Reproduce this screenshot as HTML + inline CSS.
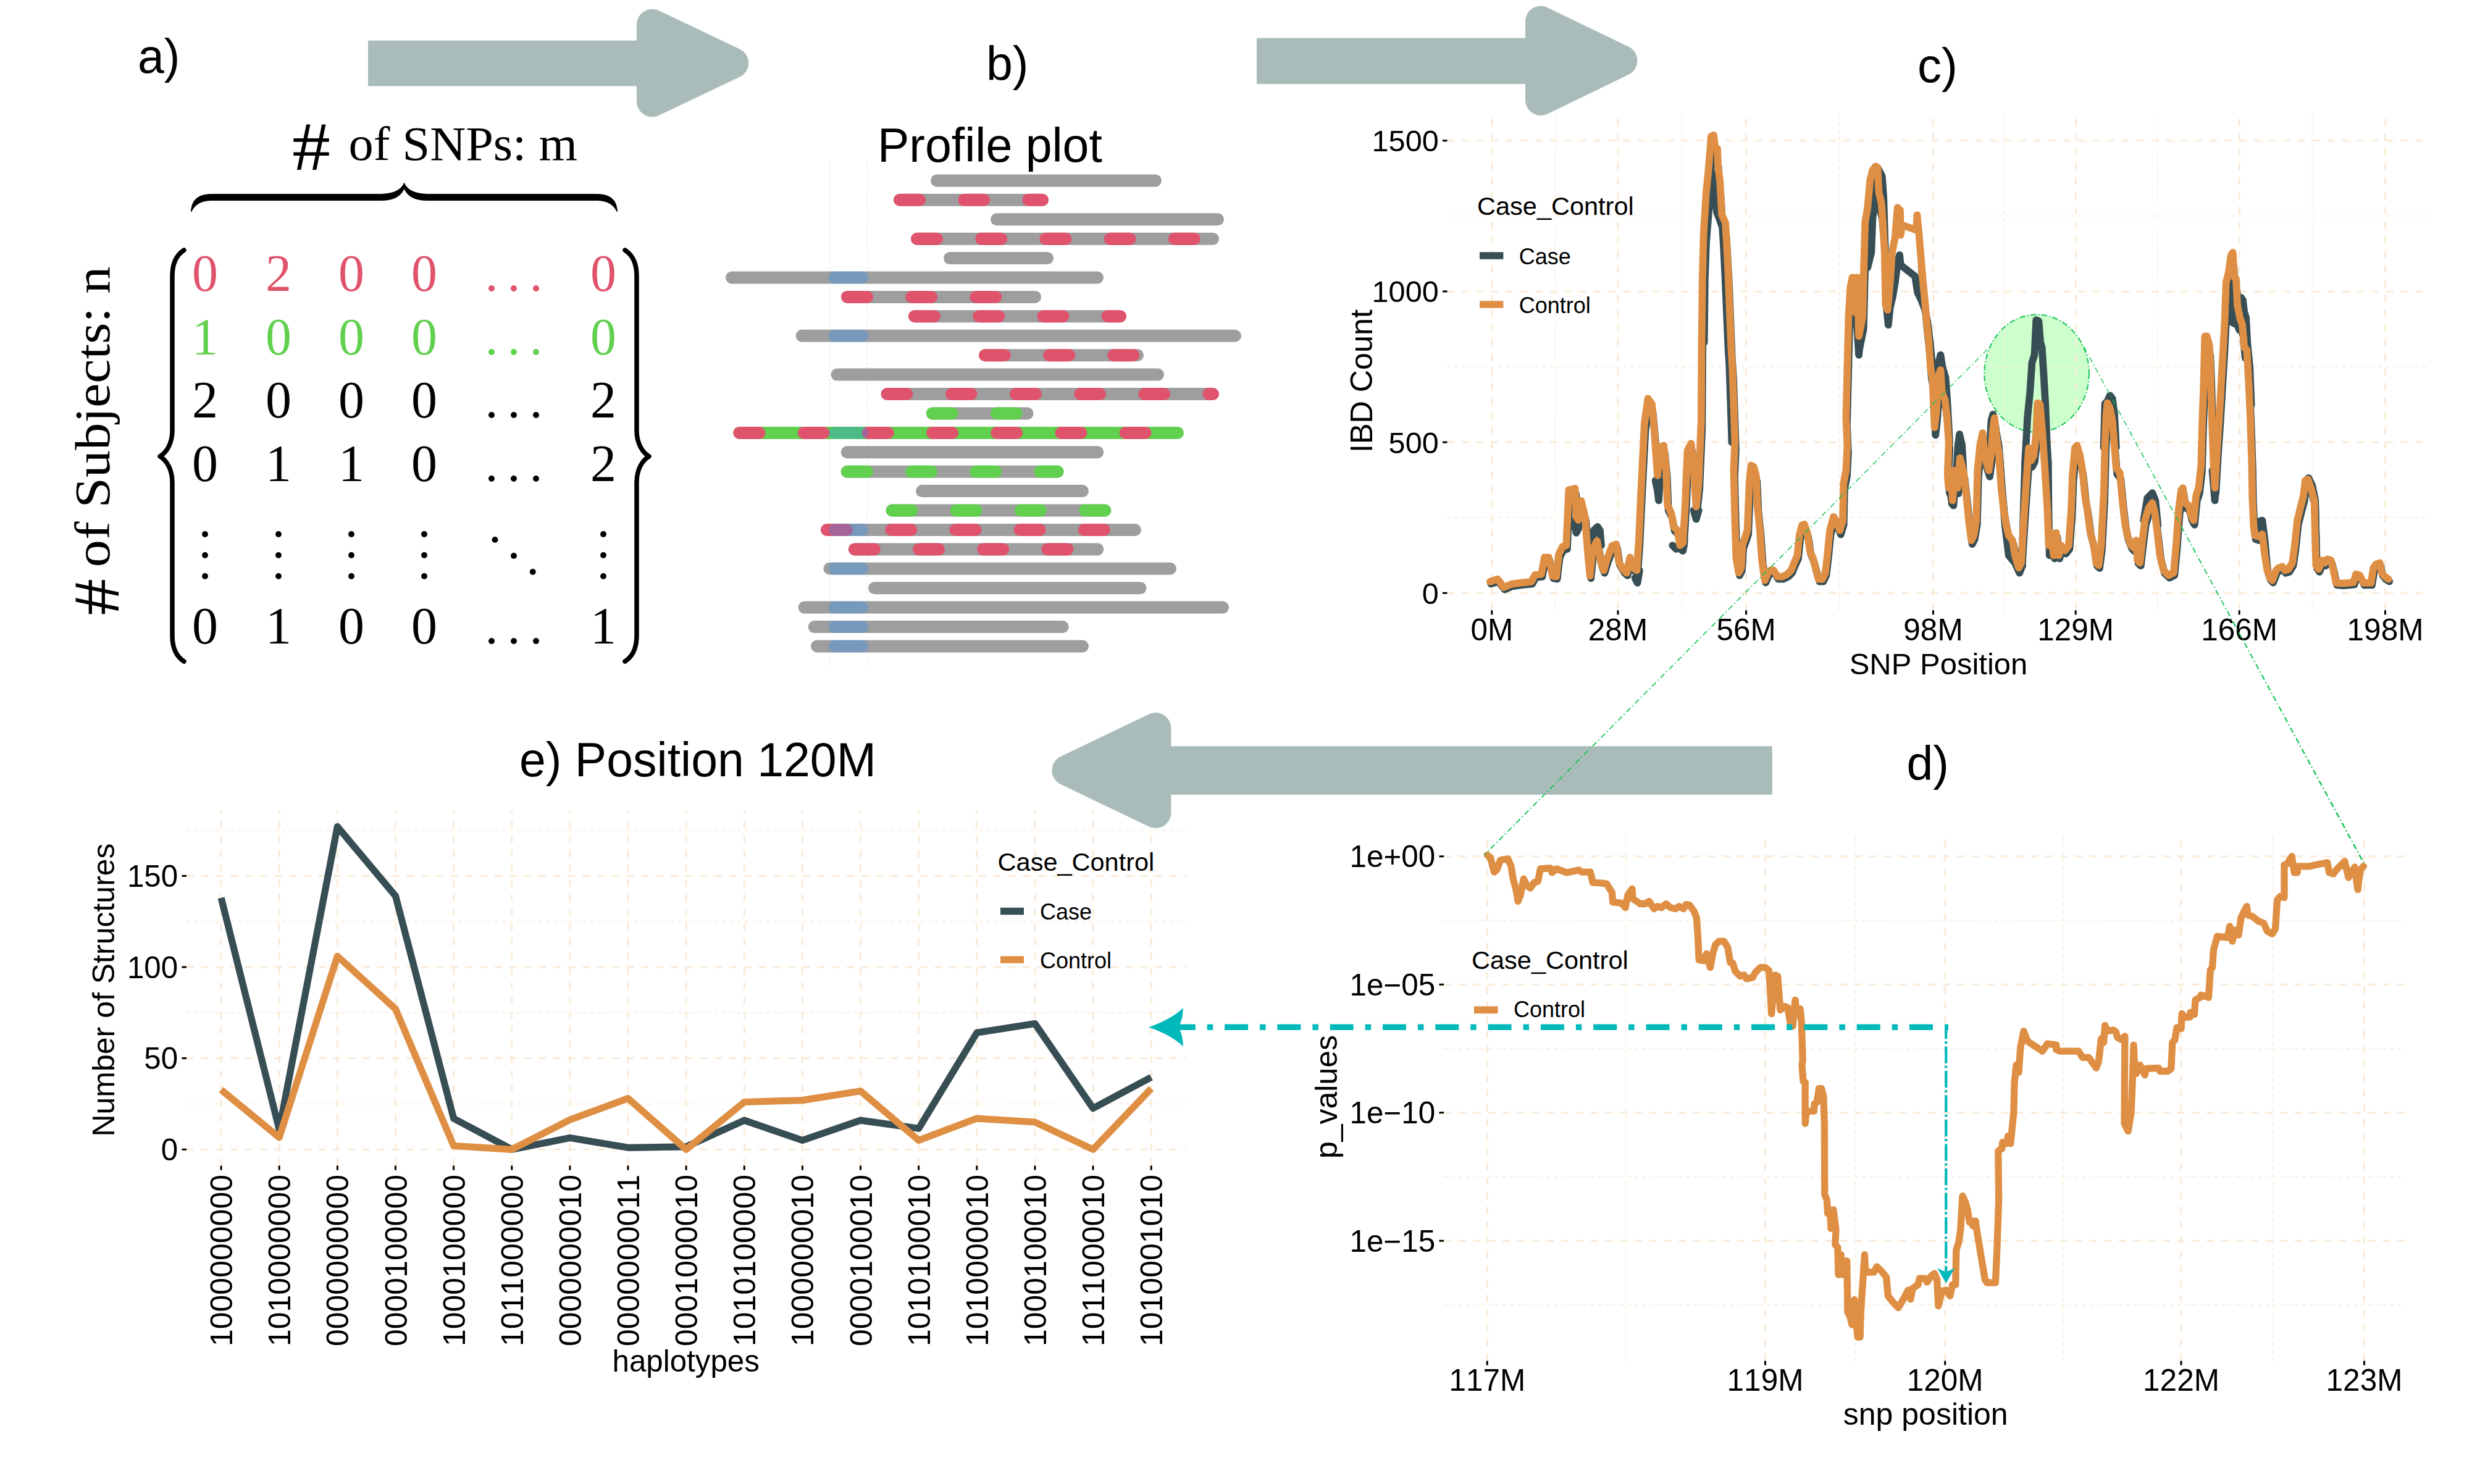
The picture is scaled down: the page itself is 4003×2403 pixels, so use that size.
<!DOCTYPE html>
<html><head><meta charset="utf-8"><title>figure</title>
<style>html,body{margin:0;padding:0;background:#fff;}svg{display:block;}text{font-kerning:none;}</style></head><body>
<svg width="4003" height="2403" viewBox="0 0 4003 2403">
<rect width="4003" height="2403" fill="#fff"/>
<g stroke="#FAEBD7" fill="none">
<line x1="302.0" y1="1787.5" x2="1920.7" y2="1787.5" stroke-width="1.5" stroke-dasharray="5.94 5.94"/>
<line x1="302.0" y1="1639.8" x2="1920.7" y2="1639.8" stroke-width="1.5" stroke-dasharray="5.94 5.94"/>
<line x1="302.0" y1="1492.2" x2="1920.7" y2="1492.2" stroke-width="1.5" stroke-dasharray="5.94 5.94"/>
<line x1="302.0" y1="1344.5" x2="1920.7" y2="1344.5" stroke-width="1.5" stroke-dasharray="5.94 5.94"/>
<line x1="302.0" y1="1861.3" x2="1920.7" y2="1861.3" stroke-width="3" stroke-dasharray="11.88 11.88"/>
<line x1="302.0" y1="1713.6" x2="1920.7" y2="1713.6" stroke-width="3" stroke-dasharray="11.88 11.88"/>
<line x1="302.0" y1="1566.0" x2="1920.7" y2="1566.0" stroke-width="3" stroke-dasharray="11.88 11.88"/>
<line x1="302.0" y1="1418.3" x2="1920.7" y2="1418.3" stroke-width="3" stroke-dasharray="11.88 11.88"/>
<line x1="358.1" y1="1887.4" x2="358.1" y2="1311.8" stroke-width="3" stroke-dasharray="11.88 11.88"/>
<line x1="452.2" y1="1887.4" x2="452.2" y2="1311.8" stroke-width="3" stroke-dasharray="11.88 11.88"/>
<line x1="546.4" y1="1887.4" x2="546.4" y2="1311.8" stroke-width="3" stroke-dasharray="11.88 11.88"/>
<line x1="640.5" y1="1887.4" x2="640.5" y2="1311.8" stroke-width="3" stroke-dasharray="11.88 11.88"/>
<line x1="734.6" y1="1887.4" x2="734.6" y2="1311.8" stroke-width="3" stroke-dasharray="11.88 11.88"/>
<line x1="828.8" y1="1887.4" x2="828.8" y2="1311.8" stroke-width="3" stroke-dasharray="11.88 11.88"/>
<line x1="922.9" y1="1887.4" x2="922.9" y2="1311.8" stroke-width="3" stroke-dasharray="11.88 11.88"/>
<line x1="1017.0" y1="1887.4" x2="1017.0" y2="1311.8" stroke-width="3" stroke-dasharray="11.88 11.88"/>
<line x1="1111.1" y1="1887.4" x2="1111.1" y2="1311.8" stroke-width="3" stroke-dasharray="11.88 11.88"/>
<line x1="1205.3" y1="1887.4" x2="1205.3" y2="1311.8" stroke-width="3" stroke-dasharray="11.88 11.88"/>
<line x1="1299.4" y1="1887.4" x2="1299.4" y2="1311.8" stroke-width="3" stroke-dasharray="11.88 11.88"/>
<line x1="1393.5" y1="1887.4" x2="1393.5" y2="1311.8" stroke-width="3" stroke-dasharray="11.88 11.88"/>
<line x1="1487.7" y1="1887.4" x2="1487.7" y2="1311.8" stroke-width="3" stroke-dasharray="11.88 11.88"/>
<line x1="1581.8" y1="1887.4" x2="1581.8" y2="1311.8" stroke-width="3" stroke-dasharray="11.88 11.88"/>
<line x1="1675.9" y1="1887.4" x2="1675.9" y2="1311.8" stroke-width="3" stroke-dasharray="11.88 11.88"/>
<line x1="1770.0" y1="1887.4" x2="1770.0" y2="1311.8" stroke-width="3" stroke-dasharray="11.88 11.88"/>
<line x1="1864.2" y1="1887.4" x2="1864.2" y2="1311.8" stroke-width="3" stroke-dasharray="11.88 11.88"/>
</g>
<rect x="596.0" y="65.7" width="436.0" height="73.7" fill="#a9bcba"/>
<polygon points="1056.0,39.7 1056.0,164.3 1187.2,102.0" fill="#a9bcba" stroke="#a9bcba" stroke-width="50" stroke-linejoin="round"/>
<rect x="2035.0" y="61.7" width="436.0" height="74.3" fill="#a9bcba"/>
<polygon points="2495.0,34.7 2495.0,161.9 2626.5,98.3" fill="#a9bcba" stroke="#a9bcba" stroke-width="50" stroke-linejoin="round"/>
<rect x="1895.0" y="1208.3" width="974.8" height="78.5" fill="#a9bcba"/>
<polygon points="1871.4,1179.0 1871.4,1316.0 1728.4,1247.5" fill="#a9bcba" stroke="#a9bcba" stroke-width="50" stroke-linejoin="round"/>
<text x="223.0" y="118.0" font-family='"Liberation Sans", sans-serif' font-size="77" text-anchor="start" fill="#000" >a)</text>
<text x="1597.0" y="130.0" font-family='"Liberation Sans", sans-serif' font-size="77" text-anchor="start" fill="#000" >b)</text>
<text x="3105.0" y="132.5" font-family='"Liberation Sans", sans-serif' font-size="78" text-anchor="start" fill="#000" >c)</text>
<text x="3087.5" y="1262.5" font-family='"Liberation Sans", sans-serif' font-size="77" text-anchor="start" fill="#000" >d)</text>
<text x="841.0" y="1256.7" font-family='"Liberation Sans", sans-serif' font-size="77" text-anchor="start" fill="#000" >e) Position 120M</text>
<text x="1421.0" y="262.0" font-family='"Liberation Sans", sans-serif' font-size="77" text-anchor="start" fill="#000" >Profile plot</text>
<text x="473.0" y="275.3" font-family='"Liberation Serif", serif' font-size="112" text-anchor="start" fill="#000" textLength="62" lengthAdjust="spacingAndGlyphs">#</text>
<text x="564.5" y="259.0" font-family='"Liberation Serif", serif' font-size="79" text-anchor="start" fill="#000" textLength="370.5" lengthAdjust="spacingAndGlyphs">of SNPs: m</text>
<text x="192.0" y="996.5" font-family='"Liberation Serif", serif' font-size="106" text-anchor="start" fill="#000" transform="rotate(-90 192.0 996.5)" textLength="59.5" lengthAdjust="spacingAndGlyphs">#</text>
<text x="177.0" y="918.4" font-family='"Liberation Serif", serif' font-size="80" text-anchor="start" fill="#000" transform="rotate(-90 177.0 918.4)" textLength="487" lengthAdjust="spacingAndGlyphs">of Subjects: n</text>
<path d="M309.5,343.0 C310.5,322.4 321.5,314.4 344.5,314.4 L614.5,314.4 C639.5,314.4 650.0,306.4 654.5,296.3 C659.0,306.4 669.5,314.4 694.5,314.4 L964.5,314.4 C987.5,314.4 998.5,322.4 999.5,343.0 C991.5,327.9 979.5,324.4 964.5,324.4 L691.5,324.4 C668.5,324.4 658.5,315.4 654.5,304.8 C650.5,315.4 640.5,324.4 617.5,324.4 L344.5,324.4 C329.5,324.4 317.5,327.9 309.5,343.0 Z" fill="#000" stroke="#000" stroke-width="1" stroke-linejoin="round"/>
<path d="M298.0,405.0 C288.5,411.0 279.0,423.0 279.0,447.0 L279.0,697.0 C279.0,719.0 269.0,733.0 259.0,739.0 C269.0,745.0 279.0,759.0 279.0,781.0 L279.0,1029.0 C279.0,1053.0 288.5,1065.0 298.0,1071.0" fill="none" stroke="#000" stroke-width="7.5" stroke-linecap="round" stroke-linejoin="round"/>
<path d="M1012.0,405.0 C1021.5,411.0 1031.0,423.0 1031.0,447.0 L1031.0,697.0 C1031.0,719.0 1041.0,733.0 1051.0,739.0 C1041.0,745.0 1031.0,759.0 1031.0,781.0 L1031.0,1029.0 C1031.0,1053.0 1021.5,1065.0 1012.0,1071.0" fill="none" stroke="#000" stroke-width="7.5" stroke-linecap="round" stroke-linejoin="round"/>
<text x="332.0" y="471.0" font-family='"Liberation Serif", serif' font-size="84" text-anchor="middle" fill="#e0536c" >0</text>
<text x="451.0" y="471.0" font-family='"Liberation Serif", serif' font-size="84" text-anchor="middle" fill="#e0536c" >2</text>
<text x="569.0" y="471.0" font-family='"Liberation Serif", serif' font-size="84" text-anchor="middle" fill="#e0536c" >0</text>
<text x="687.0" y="471.0" font-family='"Liberation Serif", serif' font-size="84" text-anchor="middle" fill="#e0536c" >0</text>
<text x="796.0" y="470.7" font-family='"Liberation Serif", serif' font-size="84" text-anchor="middle" fill="#e0536c" >.</text>
<text x="832.0" y="470.7" font-family='"Liberation Serif", serif' font-size="84" text-anchor="middle" fill="#e0536c" >.</text>
<text x="868.0" y="470.7" font-family='"Liberation Serif", serif' font-size="84" text-anchor="middle" fill="#e0536c" >.</text>
<text x="977.0" y="471.0" font-family='"Liberation Serif", serif' font-size="84" text-anchor="middle" fill="#e0536c" >0</text>
<text x="332.0" y="574.0" font-family='"Liberation Serif", serif' font-size="84" text-anchor="middle" fill="#61d04f" >1</text>
<text x="451.0" y="574.0" font-family='"Liberation Serif", serif' font-size="84" text-anchor="middle" fill="#61d04f" >0</text>
<text x="569.0" y="574.0" font-family='"Liberation Serif", serif' font-size="84" text-anchor="middle" fill="#61d04f" >0</text>
<text x="687.0" y="574.0" font-family='"Liberation Serif", serif' font-size="84" text-anchor="middle" fill="#61d04f" >0</text>
<text x="796.0" y="573.7" font-family='"Liberation Serif", serif' font-size="84" text-anchor="middle" fill="#61d04f" >.</text>
<text x="832.0" y="573.7" font-family='"Liberation Serif", serif' font-size="84" text-anchor="middle" fill="#61d04f" >.</text>
<text x="868.0" y="573.7" font-family='"Liberation Serif", serif' font-size="84" text-anchor="middle" fill="#61d04f" >.</text>
<text x="977.0" y="574.0" font-family='"Liberation Serif", serif' font-size="84" text-anchor="middle" fill="#61d04f" >0</text>
<text x="332.0" y="676.0" font-family='"Liberation Serif", serif' font-size="84" text-anchor="middle" fill="#000" >2</text>
<text x="451.0" y="676.0" font-family='"Liberation Serif", serif' font-size="84" text-anchor="middle" fill="#000" >0</text>
<text x="569.0" y="676.0" font-family='"Liberation Serif", serif' font-size="84" text-anchor="middle" fill="#000" >0</text>
<text x="687.0" y="676.0" font-family='"Liberation Serif", serif' font-size="84" text-anchor="middle" fill="#000" >0</text>
<text x="796.0" y="675.7" font-family='"Liberation Serif", serif' font-size="84" text-anchor="middle" fill="#000" >.</text>
<text x="832.0" y="675.7" font-family='"Liberation Serif", serif' font-size="84" text-anchor="middle" fill="#000" >.</text>
<text x="868.0" y="675.7" font-family='"Liberation Serif", serif' font-size="84" text-anchor="middle" fill="#000" >.</text>
<text x="977.0" y="676.0" font-family='"Liberation Serif", serif' font-size="84" text-anchor="middle" fill="#000" >2</text>
<text x="332.0" y="779.0" font-family='"Liberation Serif", serif' font-size="84" text-anchor="middle" fill="#000" >0</text>
<text x="451.0" y="779.0" font-family='"Liberation Serif", serif' font-size="84" text-anchor="middle" fill="#000" >1</text>
<text x="569.0" y="779.0" font-family='"Liberation Serif", serif' font-size="84" text-anchor="middle" fill="#000" >1</text>
<text x="687.0" y="779.0" font-family='"Liberation Serif", serif' font-size="84" text-anchor="middle" fill="#000" >0</text>
<text x="796.0" y="778.7" font-family='"Liberation Serif", serif' font-size="84" text-anchor="middle" fill="#000" >.</text>
<text x="832.0" y="778.7" font-family='"Liberation Serif", serif' font-size="84" text-anchor="middle" fill="#000" >.</text>
<text x="868.0" y="778.7" font-family='"Liberation Serif", serif' font-size="84" text-anchor="middle" fill="#000" >.</text>
<text x="977.0" y="779.0" font-family='"Liberation Serif", serif' font-size="84" text-anchor="middle" fill="#000" >2</text>
<text x="332.0" y="1042.0" font-family='"Liberation Serif", serif' font-size="84" text-anchor="middle" fill="#000" >0</text>
<text x="451.0" y="1042.0" font-family='"Liberation Serif", serif' font-size="84" text-anchor="middle" fill="#000" >1</text>
<text x="569.0" y="1042.0" font-family='"Liberation Serif", serif' font-size="84" text-anchor="middle" fill="#000" >0</text>
<text x="687.0" y="1042.0" font-family='"Liberation Serif", serif' font-size="84" text-anchor="middle" fill="#000" >0</text>
<text x="796.0" y="1041.7" font-family='"Liberation Serif", serif' font-size="84" text-anchor="middle" fill="#000" >.</text>
<text x="832.0" y="1041.7" font-family='"Liberation Serif", serif' font-size="84" text-anchor="middle" fill="#000" >.</text>
<text x="868.0" y="1041.7" font-family='"Liberation Serif", serif' font-size="84" text-anchor="middle" fill="#000" >.</text>
<text x="977.0" y="1042.0" font-family='"Liberation Serif", serif' font-size="84" text-anchor="middle" fill="#000" >1</text>
<text x="332.0" y="869.2" font-family='"Liberation Serif", serif' font-size="84" text-anchor="middle" fill="#000" >.</text>
<text x="332.0" y="903.2" font-family='"Liberation Serif", serif' font-size="84" text-anchor="middle" fill="#000" >.</text>
<text x="332.0" y="937.2" font-family='"Liberation Serif", serif' font-size="84" text-anchor="middle" fill="#000" >.</text>
<text x="451.0" y="869.2" font-family='"Liberation Serif", serif' font-size="84" text-anchor="middle" fill="#000" >.</text>
<text x="451.0" y="903.2" font-family='"Liberation Serif", serif' font-size="84" text-anchor="middle" fill="#000" >.</text>
<text x="451.0" y="937.2" font-family='"Liberation Serif", serif' font-size="84" text-anchor="middle" fill="#000" >.</text>
<text x="569.0" y="869.2" font-family='"Liberation Serif", serif' font-size="84" text-anchor="middle" fill="#000" >.</text>
<text x="569.0" y="903.2" font-family='"Liberation Serif", serif' font-size="84" text-anchor="middle" fill="#000" >.</text>
<text x="569.0" y="937.2" font-family='"Liberation Serif", serif' font-size="84" text-anchor="middle" fill="#000" >.</text>
<text x="687.0" y="869.2" font-family='"Liberation Serif", serif' font-size="84" text-anchor="middle" fill="#000" >.</text>
<text x="687.0" y="903.2" font-family='"Liberation Serif", serif' font-size="84" text-anchor="middle" fill="#000" >.</text>
<text x="687.0" y="937.2" font-family='"Liberation Serif", serif' font-size="84" text-anchor="middle" fill="#000" >.</text>
<text x="977.0" y="869.2" font-family='"Liberation Serif", serif' font-size="84" text-anchor="middle" fill="#000" >.</text>
<text x="977.0" y="903.2" font-family='"Liberation Serif", serif' font-size="84" text-anchor="middle" fill="#000" >.</text>
<text x="977.0" y="937.2" font-family='"Liberation Serif", serif' font-size="84" text-anchor="middle" fill="#000" >.</text>
<text x="801.6" y="878.2" font-family='"Liberation Serif", serif' font-size="84" text-anchor="middle" fill="#000" >.</text>
<text x="832.0" y="903.7" font-family='"Liberation Serif", serif' font-size="84" text-anchor="middle" fill="#000" >.</text>
<text x="862.7" y="930.2" font-family='"Liberation Serif", serif' font-size="84" text-anchor="middle" fill="#000" >.</text>
<g stroke="#a6dcee" stroke-width="1.3" stroke-dasharray="1.5 5" fill="none">
<line x1="1343.5" y1="263" x2="1343.5" y2="1077"/><line x1="1404.3" y1="263" x2="1404.3" y2="1077"/></g>
<line x1="1517.0" y1="292.4" x2="1871.0" y2="292.4" stroke="#9e9e9e" stroke-width="20" stroke-linecap="round"/>
<line x1="1457.0" y1="323.8" x2="1688.0" y2="323.8" stroke="#9e9e9e" stroke-width="20" stroke-linecap="round"/>
<line x1="1457.0" y1="323.8" x2="1489.0" y2="323.8" stroke="#e0536c" stroke-width="20" stroke-linecap="round"/>
<line x1="1561.2" y1="323.8" x2="1593.2" y2="323.8" stroke="#e0536c" stroke-width="20" stroke-linecap="round"/>
<line x1="1665.4" y1="323.8" x2="1688.0" y2="323.8" stroke="#e0536c" stroke-width="20" stroke-linecap="round"/>
<line x1="1614.0" y1="355.2" x2="1972.0" y2="355.2" stroke="#9e9e9e" stroke-width="20" stroke-linecap="round"/>
<line x1="1485.0" y1="386.7" x2="1964.0" y2="386.7" stroke="#9e9e9e" stroke-width="20" stroke-linecap="round"/>
<line x1="1485.0" y1="386.7" x2="1517.0" y2="386.7" stroke="#e0536c" stroke-width="20" stroke-linecap="round"/>
<line x1="1589.2" y1="386.7" x2="1621.2" y2="386.7" stroke="#e0536c" stroke-width="20" stroke-linecap="round"/>
<line x1="1693.4" y1="386.7" x2="1725.4" y2="386.7" stroke="#e0536c" stroke-width="20" stroke-linecap="round"/>
<line x1="1797.6" y1="386.7" x2="1829.6" y2="386.7" stroke="#e0536c" stroke-width="20" stroke-linecap="round"/>
<line x1="1901.8" y1="386.7" x2="1933.8" y2="386.7" stroke="#e0536c" stroke-width="20" stroke-linecap="round"/>
<line x1="1538.0" y1="418.1" x2="1696.0" y2="418.1" stroke="#9e9e9e" stroke-width="20" stroke-linecap="round"/>
<line x1="1185.0" y1="449.5" x2="1777.0" y2="449.5" stroke="#9e9e9e" stroke-width="20" stroke-linecap="round"/>
<line x1="1351.5" y1="449.5" x2="1396.2" y2="449.5" stroke="#1E90FF" stroke-opacity="0.3" stroke-width="20" stroke-linecap="round"/>
<line x1="1372.0" y1="480.9" x2="1676.0" y2="480.9" stroke="#9e9e9e" stroke-width="20" stroke-linecap="round"/>
<line x1="1372.0" y1="480.9" x2="1404.0" y2="480.9" stroke="#e0536c" stroke-width="20" stroke-linecap="round"/>
<line x1="1476.2" y1="480.9" x2="1508.2" y2="480.9" stroke="#e0536c" stroke-width="20" stroke-linecap="round"/>
<line x1="1580.4" y1="480.9" x2="1612.4" y2="480.9" stroke="#e0536c" stroke-width="20" stroke-linecap="round"/>
<line x1="1481.0" y1="512.3" x2="1814.0" y2="512.3" stroke="#9e9e9e" stroke-width="20" stroke-linecap="round"/>
<line x1="1481.0" y1="512.3" x2="1513.0" y2="512.3" stroke="#e0536c" stroke-width="20" stroke-linecap="round"/>
<line x1="1585.2" y1="512.3" x2="1617.2" y2="512.3" stroke="#e0536c" stroke-width="20" stroke-linecap="round"/>
<line x1="1689.4" y1="512.3" x2="1721.4" y2="512.3" stroke="#e0536c" stroke-width="20" stroke-linecap="round"/>
<line x1="1793.6" y1="512.3" x2="1814.0" y2="512.3" stroke="#e0536c" stroke-width="20" stroke-linecap="round"/>
<line x1="1298.5" y1="543.8" x2="2000.0" y2="543.8" stroke="#9e9e9e" stroke-width="20" stroke-linecap="round"/>
<line x1="1351.5" y1="543.8" x2="1396.2" y2="543.8" stroke="#1E90FF" stroke-opacity="0.3" stroke-width="20" stroke-linecap="round"/>
<line x1="1595.0" y1="575.2" x2="1842.0" y2="575.2" stroke="#9e9e9e" stroke-width="20" stroke-linecap="round"/>
<line x1="1595.0" y1="575.2" x2="1627.0" y2="575.2" stroke="#e0536c" stroke-width="20" stroke-linecap="round"/>
<line x1="1699.2" y1="575.2" x2="1731.2" y2="575.2" stroke="#e0536c" stroke-width="20" stroke-linecap="round"/>
<line x1="1803.4" y1="575.2" x2="1835.4" y2="575.2" stroke="#e0536c" stroke-width="20" stroke-linecap="round"/>
<line x1="1355.5" y1="606.6" x2="1875.0" y2="606.6" stroke="#9e9e9e" stroke-width="20" stroke-linecap="round"/>
<line x1="1436.5" y1="638.0" x2="1964.0" y2="638.0" stroke="#9e9e9e" stroke-width="20" stroke-linecap="round"/>
<line x1="1436.5" y1="638.0" x2="1468.5" y2="638.0" stroke="#e0536c" stroke-width="20" stroke-linecap="round"/>
<line x1="1540.7" y1="638.0" x2="1572.7" y2="638.0" stroke="#e0536c" stroke-width="20" stroke-linecap="round"/>
<line x1="1644.9" y1="638.0" x2="1676.9" y2="638.0" stroke="#e0536c" stroke-width="20" stroke-linecap="round"/>
<line x1="1749.1" y1="638.0" x2="1781.1" y2="638.0" stroke="#e0536c" stroke-width="20" stroke-linecap="round"/>
<line x1="1853.3" y1="638.0" x2="1885.3" y2="638.0" stroke="#e0536c" stroke-width="20" stroke-linecap="round"/>
<line x1="1957.5" y1="638.0" x2="1964.0" y2="638.0" stroke="#e0536c" stroke-width="20" stroke-linecap="round"/>
<line x1="1509.7" y1="669.4" x2="1663.6" y2="669.4" stroke="#9e9e9e" stroke-width="20" stroke-linecap="round"/>
<line x1="1509.7" y1="669.4" x2="1541.7" y2="669.4" stroke="#61d04f" stroke-width="20" stroke-linecap="round"/>
<line x1="1613.9" y1="669.4" x2="1645.9" y2="669.4" stroke="#61d04f" stroke-width="20" stroke-linecap="round"/>
<line x1="1197.4" y1="700.9" x2="1907.0" y2="700.9" stroke="#61d04f" stroke-width="20" stroke-linecap="round"/>
<line x1="1197.4" y1="700.9" x2="1229.4" y2="700.9" stroke="#e0536c" stroke-width="20" stroke-linecap="round"/>
<line x1="1301.6" y1="700.9" x2="1333.6" y2="700.9" stroke="#e0536c" stroke-width="20" stroke-linecap="round"/>
<line x1="1405.8" y1="700.9" x2="1437.8" y2="700.9" stroke="#e0536c" stroke-width="20" stroke-linecap="round"/>
<line x1="1510.0" y1="700.9" x2="1542.0" y2="700.9" stroke="#e0536c" stroke-width="20" stroke-linecap="round"/>
<line x1="1614.2" y1="700.9" x2="1646.2" y2="700.9" stroke="#e0536c" stroke-width="20" stroke-linecap="round"/>
<line x1="1718.4" y1="700.9" x2="1750.4" y2="700.9" stroke="#e0536c" stroke-width="20" stroke-linecap="round"/>
<line x1="1822.6" y1="700.9" x2="1854.6" y2="700.9" stroke="#e0536c" stroke-width="20" stroke-linecap="round"/>
<line x1="1351.5" y1="700.9" x2="1396.2" y2="700.9" stroke="#1E90FF" stroke-opacity="0.3" stroke-width="20" stroke-linecap="round"/>
<line x1="1371.7" y1="732.3" x2="1777.3" y2="732.3" stroke="#9e9e9e" stroke-width="20" stroke-linecap="round"/>
<line x1="1371.7" y1="763.7" x2="1712.6" y2="763.7" stroke="#9e9e9e" stroke-width="20" stroke-linecap="round"/>
<line x1="1371.7" y1="763.7" x2="1403.7" y2="763.7" stroke="#61d04f" stroke-width="20" stroke-linecap="round"/>
<line x1="1475.9" y1="763.7" x2="1507.9" y2="763.7" stroke="#61d04f" stroke-width="20" stroke-linecap="round"/>
<line x1="1580.1" y1="763.7" x2="1612.1" y2="763.7" stroke="#61d04f" stroke-width="20" stroke-linecap="round"/>
<line x1="1684.3" y1="763.7" x2="1712.6" y2="763.7" stroke="#61d04f" stroke-width="20" stroke-linecap="round"/>
<line x1="1493.0" y1="795.1" x2="1753.0" y2="795.1" stroke="#9e9e9e" stroke-width="20" stroke-linecap="round"/>
<line x1="1444.5" y1="826.5" x2="1789.4" y2="826.5" stroke="#9e9e9e" stroke-width="20" stroke-linecap="round"/>
<line x1="1444.5" y1="826.5" x2="1476.5" y2="826.5" stroke="#61d04f" stroke-width="20" stroke-linecap="round"/>
<line x1="1548.7" y1="826.5" x2="1580.7" y2="826.5" stroke="#61d04f" stroke-width="20" stroke-linecap="round"/>
<line x1="1652.9" y1="826.5" x2="1684.9" y2="826.5" stroke="#61d04f" stroke-width="20" stroke-linecap="round"/>
<line x1="1757.1" y1="826.5" x2="1789.1" y2="826.5" stroke="#61d04f" stroke-width="20" stroke-linecap="round"/>
<line x1="1339.0" y1="858.0" x2="1838.0" y2="858.0" stroke="#9e9e9e" stroke-width="20" stroke-linecap="round"/>
<line x1="1339.0" y1="858.0" x2="1371.0" y2="858.0" stroke="#e0536c" stroke-width="20" stroke-linecap="round"/>
<line x1="1443.2" y1="858.0" x2="1475.2" y2="858.0" stroke="#e0536c" stroke-width="20" stroke-linecap="round"/>
<line x1="1547.4" y1="858.0" x2="1579.4" y2="858.0" stroke="#e0536c" stroke-width="20" stroke-linecap="round"/>
<line x1="1651.6" y1="858.0" x2="1683.6" y2="858.0" stroke="#e0536c" stroke-width="20" stroke-linecap="round"/>
<line x1="1755.8" y1="858.0" x2="1787.8" y2="858.0" stroke="#e0536c" stroke-width="20" stroke-linecap="round"/>
<line x1="1351.5" y1="858.0" x2="1396.2" y2="858.0" stroke="#1E90FF" stroke-opacity="0.3" stroke-width="20" stroke-linecap="round"/>
<line x1="1383.9" y1="889.4" x2="1777.3" y2="889.4" stroke="#9e9e9e" stroke-width="20" stroke-linecap="round"/>
<line x1="1383.9" y1="889.4" x2="1415.9" y2="889.4" stroke="#e0536c" stroke-width="20" stroke-linecap="round"/>
<line x1="1488.1" y1="889.4" x2="1520.1" y2="889.4" stroke="#e0536c" stroke-width="20" stroke-linecap="round"/>
<line x1="1592.3" y1="889.4" x2="1624.3" y2="889.4" stroke="#e0536c" stroke-width="20" stroke-linecap="round"/>
<line x1="1696.5" y1="889.4" x2="1728.5" y2="889.4" stroke="#e0536c" stroke-width="20" stroke-linecap="round"/>
<line x1="1343.4" y1="920.8" x2="1895.0" y2="920.8" stroke="#9e9e9e" stroke-width="20" stroke-linecap="round"/>
<line x1="1351.5" y1="920.8" x2="1396.2" y2="920.8" stroke="#1E90FF" stroke-opacity="0.3" stroke-width="20" stroke-linecap="round"/>
<line x1="1416.0" y1="952.2" x2="1846.5" y2="952.2" stroke="#9e9e9e" stroke-width="20" stroke-linecap="round"/>
<line x1="1302.6" y1="983.6" x2="1980.0" y2="983.6" stroke="#9e9e9e" stroke-width="20" stroke-linecap="round"/>
<line x1="1351.5" y1="983.6" x2="1396.2" y2="983.6" stroke="#1E90FF" stroke-opacity="0.3" stroke-width="20" stroke-linecap="round"/>
<line x1="1318.7" y1="1015.1" x2="1720.7" y2="1015.1" stroke="#9e9e9e" stroke-width="20" stroke-linecap="round"/>
<line x1="1351.5" y1="1015.1" x2="1396.2" y2="1015.1" stroke="#1E90FF" stroke-opacity="0.3" stroke-width="20" stroke-linecap="round"/>
<line x1="1323.0" y1="1046.5" x2="1753.0" y2="1046.5" stroke="#9e9e9e" stroke-width="20" stroke-linecap="round"/>
<line x1="1351.5" y1="1046.5" x2="1396.2" y2="1046.5" stroke="#1E90FF" stroke-opacity="0.3" stroke-width="20" stroke-linecap="round"/>
<ellipse cx="3298.1" cy="604.7" rx="84.8" ry="95.3" fill="#ccffcc"/>
<g stroke="#FAEBD7" fill="none">
<line x1="2343.0" y1="838.2" x2="3934.5" y2="838.2" stroke-width="1.5" stroke-dasharray="5.94 5.94"/>
<line x1="2343.0" y1="594.0" x2="3934.5" y2="594.0" stroke-width="1.5" stroke-dasharray="5.94 5.94"/>
<line x1="2343.0" y1="349.8" x2="3934.5" y2="349.8" stroke-width="1.5" stroke-dasharray="5.94 5.94"/>
<line x1="2518.0" y1="988.3" x2="2518.0" y2="181.5" stroke-width="1.5" stroke-dasharray="5.94 5.94"/>
<line x1="2723.7" y1="988.3" x2="2723.7" y2="181.5" stroke-width="1.5" stroke-dasharray="5.94 5.94"/>
<line x1="2978.7" y1="988.3" x2="2978.7" y2="181.5" stroke-width="1.5" stroke-dasharray="5.94 5.94"/>
<line x1="3245.6" y1="988.3" x2="3245.6" y2="181.5" stroke-width="1.5" stroke-dasharray="5.94 5.94"/>
<line x1="3493.6" y1="988.3" x2="3493.6" y2="181.5" stroke-width="1.5" stroke-dasharray="5.94 5.94"/>
<line x1="3744.3" y1="988.3" x2="3744.3" y2="181.5" stroke-width="1.5" stroke-dasharray="5.94 5.94"/>
<line x1="2343.0" y1="960.3" x2="3934.5" y2="960.3" stroke-width="3" stroke-dasharray="11.88 11.88"/>
<line x1="2343.0" y1="716.1" x2="3934.5" y2="716.1" stroke-width="3" stroke-dasharray="11.88 11.88"/>
<line x1="2343.0" y1="471.9" x2="3934.5" y2="471.9" stroke-width="3" stroke-dasharray="11.88 11.88"/>
<line x1="2343.0" y1="227.7" x2="3934.5" y2="227.7" stroke-width="3" stroke-dasharray="11.88 11.88"/>
<line x1="2415.8" y1="988.3" x2="2415.8" y2="181.5" stroke-width="3" stroke-dasharray="11.88 11.88"/>
<line x1="2620.0" y1="988.3" x2="2620.0" y2="181.5" stroke-width="3" stroke-dasharray="11.88 11.88"/>
<line x1="2827.6" y1="988.3" x2="2827.6" y2="181.5" stroke-width="3" stroke-dasharray="11.88 11.88"/>
<line x1="3130.5" y1="988.3" x2="3130.5" y2="181.5" stroke-width="3" stroke-dasharray="11.88 11.88"/>
<line x1="3361.2" y1="988.3" x2="3361.2" y2="181.5" stroke-width="3" stroke-dasharray="11.88 11.88"/>
<line x1="3626.2" y1="988.3" x2="3626.2" y2="181.5" stroke-width="3" stroke-dasharray="11.88 11.88"/>
<line x1="3862.5" y1="988.3" x2="3862.5" y2="181.5" stroke-width="3" stroke-dasharray="11.88 11.88"/>
</g>
<ellipse cx="3298.1" cy="604.7" rx="84.8" ry="95.3" fill="none" stroke="#12c455" stroke-width="2" stroke-dasharray="9.3 3.4 1.9 3.4"/>
<g fill="none" stroke-linejoin="round" stroke-linecap="round" stroke-width="11.8">
<polyline points="2414.4,945.5 2426.6,941.6 2436.7,954.5 2448.8,949.4 2463.0,947.4 2481.2,945.5 2487.3,934.9 2497.4,933.8 2502.6,907.6 2509.5,907.6 2515.6,936.5 2521.6,937.7 2525.7,902.5 2531.8,890.8 2537.8,888.9 2541.9,802.2 2552.0,799.9 2554.0,844.0 2557.2,849.1 2562.1,819.4 2568.2,844.0 2573.0,904.5 2576.3,936.5 2580.3,896.7 2587.6,881.8 2594.5,918.1 2598.5,927.9 2603.8,910.3 2611.9,889.7 2618.7,886.9 2622.8,914.2 2630.9,927.9 2635.7,931.8 2641.0,907.6 2645.8,924.0 2651.9,927.9 2655.1,885.0 2659.2,799.1 2664.4,697.6 2670.1,659.3 2676.6,668.3 2680.6,713.2 2685.5,779.6 2691.5,734.7 2695.6,732.7 2699.6,771.8 2701.7,826.4 2707.7,838.1 2711.8,859.6 2717.8,865.4 2721.9,888.9 2726.7,885.0 2730.8,818.6 2734.0,740.5 2740.1,729.6 2744.1,771.8 2748.2,828.4 2752.2,791.3 2756.3,693.7 2757.1,571.7 2758.3,474.1 2760.3,400.0 2764.4,337.5 2768.4,298.5 2772.5,249.7 2776.5,247.7 2778.5,265.3 2782.6,269.2 2783.8,298.5 2786.6,318.0 2789.8,372.6 2795.5,384.4 2797.5,415.6 2800.0,462.4 2802.8,532.7 2804.8,579.5 2806.8,610.8 2808.9,669.3 2810.9,727.9 2808.9,771.8 2810.9,849.8 2812.9,908.4 2817.0,931.8 2821.0,924.0 2823.0,888.9 2827.1,877.2 2831.1,865.4 2834.3,791.3 2837.2,764.0 2841.2,765.9 2845.3,779.6 2847.3,826.4 2851.3,865.4 2854.6,912.3 2859.4,943.5 2864.3,931.8 2869.5,927.1 2873.6,927.9 2879.7,937.7 2887.7,937.7 2895.8,933.8 2901.9,927.9 2905.9,918.1 2912.0,904.5 2915.3,873.3 2919.3,857.6 2923.3,855.7 2928.2,869.4 2932.2,896.7 2937.1,908.4 2942.4,927.9 2946.4,941.6 2952.5,941.6 2957.3,931.8 2960.6,904.5 2964.6,865.4 2970.7,844.0 2974.7,849.8 2980.8,865.4 2985.6,849.8 2986.9,791.3 2990.9,771.8 2992.9,732.7 2990.9,688.8 2992.9,610.8 2994.9,532.7 2997.8,485.9 3001.0,470.2 3003.5,470.2 3005.9,524.9 3009.2,470.2 3011.6,562.0 3017.7,532.7 3019.7,454.6 3021.7,384.4 3025.8,360.9 3029.8,318.0 3033.9,302.4 3038.7,296.5 3042.0,298.5 3044.0,337.5 3048.0,353.1 3050.0,376.5" stroke="#374E55"/>
<polyline points="3111.5,431.2 3114.8,470.2 3118.0,501.5 3120.8,532.7 3124.9,571.7 3127.7,610.8 3130.9,630.3 3134.2,704.5 3137.0,681.0 3141.1,622.5 3143.9,614.7 3146.3,649.8 3151.2,661.5 3154.4,688.8 3157.2,727.9 3155.2,779.6 3157.2,799.1 3161.3,771.8 3163.3,818.6 3167.4,771.8 3171.4,799.1 3175.4,752.2 3181.5,775.7 3185.6,810.8 3189.6,849.8 3193.7,881.1 3197.7,873.3 3201.7,849.8 3203.8,771.8 3207.8,732.7 3211.9,713.2 3215.9,752.2 3222.0,771.8 3226.0,744.4 3228.0,713.2 3231.3,689.8 3234.1,717.1 3238.2,744.4 3242.2,799.1 3246.2,834.2 3250.3,857.6 3254.3,873.3 3260.4,881.1 3264.4,904.5 3270.5,924.0 3274.6,916.2 3278.6,849.8 3282.6,791.3 3286.7,736.6 3290.7,756.1 3294.8,748.3 3298.8,713.2 3300.9,666.4 3304.9,668.3 3308.9,713.2 3313.0,771.8 3317.0,834.2 3319.1,888.9 3323.1,869.4 3327.1,904.5 3331.2,869.4 3335.2,904.5 3339.3,888.9 3345.4,896.7 3351.4,888.9 3355.5,834.2 3357.5,779.6 3361.5,736.6 3364.8,732.7 3369.6,748.3 3373.7,771.8 3377.7,810.8 3381.8,834.2 3385.8,865.4 3391.9,888.9 3395.9,916.2 3400.0,920.1 3404.0,888.9 3408.1,810.8 3410.1,732.7 3412.1,685.9 3414.1,666.4 3418.2,674.2 3422.2,693.7 3425.4,732.7 3428.3,767.9 3434.3,775.7 3438.4,818.6 3442.4,853.7 3446.5,873.3 3452.6,888.9 3456.6,892.8 3460.6,881.1 3462.7,912.3 3466.7,916.2 3470.8,881.1 3474.8,849.8 3480.9,830.3 3486.9,822.5 3491.0,838.1 3495.0,869.4 3499.1,904.5 3505.1,927.9 3513.2,935.7 3521.3,931.8 3525.4,888.9 3529.4,834.2 3533.5,803.0 3536.3,799.1 3539.5,822.5 3545.6,826.4 3549.6,842.0 3553.7,849.8 3557.7,810.8 3561.8,799.1 3565.8,764.0 3567.8,693.7 3569.9,639.0 3571.9,562.0 3575.1,562.0 3579.2,575.6 3580.8,610.8 3583.2,688.8 3586.0,760.0 3588.1,799.1 3592.1,732.7 3595.4,685.9 3598.2,639.0 3602.2,571.7 3604.3,532.7 3606.3,478.0 3610.3,462.4 3614.4,435.1 3617.2,431.2 3619.6,470.2 3622.5,472.2 3624.5,513.2 3628.5,532.7 3632.6,544.4 3635.8,579.5 3639.8,583.4 3642.7,630.3 3645.5,688.8 3647.9,760.4 3648.7,810.8 3650.8,857.6 3652.8,873.3 3658.9,875.2 3664.9,871.3 3669.0,904.5 3673.0,927.9 3677.1,939.6 3681.1,943.5 3687.2,927.9 3691.2,924.0 3697.3,922.1 3701.3,927.9 3707.4,926.0 3713.5,916.2 3717.5,888.9 3721.6,849.8 3727.6,826.4 3731.7,810.8 3734.5,787.4 3738.6,785.4 3743.8,799.1 3749.1,818.6 3750.7,881.1 3751.9,920.1 3755.9,926.0 3762.0,912.3 3766.1,916.2 3770.1,910.3 3776.2,912.3 3780.2,927.9 3784.3,947.4 3794.4,948.2 3804.5,947.4 3812.6,946.6 3816.6,933.8 3822.7,935.7 3828.8,947.4 3840.9,947.4 3844.9,924.0 3849.0,918.1 3855.1,916.2 3858.3,931.8 3863.2,937.7 3869.2,941.6" stroke="#374E55"/>
<polyline points="2759.6,554.5 2760.8,453.4 2762.9,392.7 2766.9,344.2 2771.0,311.8 2775.0,281.5 2777.0,311.8 2780.3,344.2 2783.5,352.3 2789.2,368.4 2791.2,400.8 2793.6,449.4 2796.4,514.1 2798.5,562.6 2800.5,595.0 2802.5,655.7 2804.5,716.3" stroke="#374E55"/>
<polyline points="3024.3,433.2 3030.3,408.9 3032.4,352.3 3036.4,328.0 3040.5,271.4 3047.7,285.5 3050.2,319.9 3052.6,400.8 3054.6,493.9 3057.8,526.2 3060.7,497.9 3064.7,481.7 3068.8,457.4 3072.8,425.1 3076.1,412.9 3077.7,429.1 3101.1,447.3 3105.2,473.6 3111.2,485.8 3117.3,501.9 3121.4,522.2 3125.4,554.5 3129.4,595.0 3135.5,627.3 3137.5,595.0 3142.4,574.8 3145.6,595.0 3150.5,611.2 3153.7,655.7 3157.0,716.3" stroke="#374E55"/>
<polyline points="3006.1,514.1 3010.1,574.8 3014.2,534.3" stroke="#374E55"/>
<polyline points="3167.9,769.9 3170.7,721.4 3173.1,703.2 3177.2,721.4 3180.0,769.9" stroke="#374E55"/>
<polyline points="3157.8,794.2 3161.0,816.4 3163.8,802.3" stroke="#374E55"/>
<polyline points="3221.7,733.5 3224.5,680.9 3227.3,670.8 3231.4,693.0 3236.7,721.4 3241.9,790.1 3246.8,850.8 3252.8,899.4 3262.9,911.5 3270.2,927.7 3275.1,915.5" stroke="#374E55"/>
<polyline points="3269.0,923.6 3275.1,883.2 3279.1,750.1" stroke="#374E55"/>
<polyline points="3279.1,749.9 3283.2,675.9 3287.2,635.4 3290.5,586.9 3294.5,574.8 3297.3,518.1 3301.4,520.1 3304.2,554.5 3306.6,562.6 3309.5,607.1 3312.3,655.7 3314.7,716.3 3316.7,749.9" stroke="#374E55"/>
<polyline points="3316.7,750.1 3317.6,842.7 3318.8,899.4 3323.6,899.4" stroke="#374E55"/>
<polyline points="3406.6,724.4 3408.6,653.6 3412.6,649.6 3416.7,640.3 3420.7,645.6 3423.9,669.8 3426.8,724.4" stroke="#374E55"/>
<polyline points="3471.3,842.7 3477.3,806.3 3485.4,798.2 3490.3,810.4 3494.3,850.8" stroke="#374E55"/>
<polyline points="3606.8,514.1 3610.8,473.6 3614.9,473.6 3614.9,522.2 3623.0,526.2 3626.2,534.3 3629.0,481.7 3631.9,485.8 3634.3,506.0 3637.1,514.1 3639.2,554.5 3643.2,595.0 3645.6,655.7" stroke="#374E55"/>
<polyline points="3582.5,761.8 3586.6,810.4 3589.8,761.8" stroke="#374E55"/>
<polyline points="3653.3,867.0 3657.4,844.7 3663.4,842.7 3667.5,875.1 3671.5,919.6" stroke="#374E55"/>
<polyline points="3734.2,778.0 3738.3,773.9 3744.3,786.1 3749.2,810.4 3750.8,883.2" stroke="#374E55"/>
<polyline points="2576.8,883.2 2580.8,858.9 2586.9,852.8 2590.9,858.9 2593.0,883.2" stroke="#374E55"/>
<polyline points="2548.5,842.7 2552.5,862.9 2556.6,854.9" stroke="#374E55"/>
<polyline points="2680.7,778.0 2684.0,794.2 2686.0,810.4 2688.0,778.0" stroke="#374E55"/>
<polyline points="2742.6,826.5 2746.7,840.7 2750.7,826.5" stroke="#374E55"/>
<polyline points="2647.6,935.8 2651.6,943.9 2654.9,923.6" stroke="#374E55"/>
<polyline points="2708.3,883.2 2714.3,889.2 2718.4,883.2" stroke="#374E55"/>
<polyline points="2721.2,889.2 2725.2,892.1 2727.7,875.1" stroke="#374E55"/>
<polyline points="2412.9,941.8 2425.1,937.8 2435.2,951.1 2447.3,945.9 2461.5,943.9 2479.7,941.8 2485.8,930.9 2495.9,929.7 2501.1,902.6 2508.0,902.6 2514.1,932.5 2520.1,933.7 2524.2,897.3 2530.3,885.2 2536.3,883.2 2540.4,793.4 2550.5,790.9 2552.5,836.7 2555.7,841.9 2560.6,811.2 2566.7,836.7 2571.5,899.4 2574.8,932.5 2578.8,891.3 2586.1,875.9 2593.0,913.5 2597.0,923.6 2602.3,905.4 2610.4,884.0 2617.2,881.1 2621.3,909.5 2629.4,923.6 2634.2,927.7 2639.5,902.6 2644.3,919.6 2650.4,923.6 2653.6,879.1 2657.7,790.1 2662.9,685.0 2668.6,645.3 2675.1,654.6 2679.1,701.1 2684.0,769.9 2690.0,723.4 2694.1,721.4 2698.1,761.8 2700.2,818.4 2706.2,830.6 2710.3,852.8 2716.3,858.9 2720.4,883.2 2725.2,879.1 2729.3,810.4 2732.5,729.4 2738.6,718.1 2742.6,761.8 2746.7,820.5 2750.7,782.0 2754.8,680.9 2755.6,554.5 2756.8,453.4 2758.8,376.5 2762.9,311.8 2766.9,271.4 2771.0,220.8 2775.0,218.8 2777.0,237.0 2781.1,241.0 2782.3,271.4 2785.1,291.6 2788.3,348.2 2794.0,360.4 2796.0,392.7 2798.5,441.3 2801.3,514.1 2803.3,562.6 2805.3,595.0 2807.4,655.7 2809.4,716.3 2807.4,761.8 2809.4,842.7 2811.4,903.4 2815.5,927.7 2819.5,919.6 2821.5,883.2 2825.6,871.0 2829.6,858.9 2832.8,782.0 2835.7,753.7 2839.7,755.7 2843.8,769.9 2845.8,818.4 2849.8,858.9 2853.1,907.4 2857.9,939.8 2862.8,927.7 2868.0,922.8 2872.1,923.6 2878.2,933.7 2886.2,933.7 2894.3,929.7 2900.4,923.6 2904.4,913.5 2910.5,899.4 2913.8,867.0 2917.8,850.8 2921.8,848.8 2926.7,862.9 2930.7,891.3 2935.6,903.4 2940.9,923.6 2944.9,937.8 2951.0,937.8 2955.8,927.7 2959.1,899.4 2963.1,858.9 2969.2,836.7 2973.2,842.7 2979.3,858.9 2984.1,842.7 2985.4,782.0 2989.4,761.8 2991.4,721.4 2989.4,675.9 2991.4,595.0 2993.4,514.1 2996.3,465.5 2999.5,449.4 3002.0,449.4 3004.4,506.0 3007.7,449.4 3010.1,544.4 3016.2,514.1 3018.2,433.2 3020.2,360.4 3024.3,336.1 3028.3,291.6 3032.4,275.4 3037.2,269.3 3040.5,271.4 3042.5,311.8 3046.5,328.0 3048.5,352.3 3051.8,408.9 3053.4,493.9 3056.6,501.9 3060.7,457.4 3063.9,408.9 3068.8,384.6 3072.8,336.1 3076.9,340.1 3077.7,380.6 3080.1,364.4 3103.2,372.5 3104.4,348.2 3107.2,376.5 3110.0,408.9 3113.3,449.4 3116.5,481.7 3119.3,514.1 3123.4,554.5 3126.2,595.0 3129.4,615.2 3132.7,692.1 3135.5,667.8 3139.6,607.1 3142.4,599.0 3144.8,635.4 3149.7,647.6 3152.9,675.9 3155.7,716.3 3153.7,769.9 3155.7,790.1 3159.8,761.8 3161.8,810.4 3165.9,761.8 3169.9,790.1 3173.9,741.6 3180.0,765.9 3184.1,802.3 3188.1,842.7 3192.2,875.1 3196.2,867.0 3200.2,842.7 3202.3,761.8 3206.3,721.4 3210.4,701.1 3214.4,741.6 3220.5,761.8 3224.5,733.5 3226.5,701.1 3229.8,676.9 3232.6,705.2 3236.7,733.5 3240.7,790.1 3244.7,826.5 3248.8,850.8 3252.8,867.0 3258.9,875.1 3262.9,899.4 3269.0,919.6 3273.1,911.5 3277.1,842.7 3281.1,782.0 3285.2,725.4 3289.2,745.6 3293.3,737.5 3297.3,701.1 3299.4,652.6 3303.4,654.6 3307.4,701.1 3311.5,761.8 3315.5,826.5 3317.6,883.2 3321.6,862.9 3325.6,899.4 3329.7,862.9 3333.7,899.4 3337.8,883.2 3343.9,891.3 3349.9,883.2 3354.0,826.5 3356.0,769.9 3360.0,725.4 3363.3,721.4 3368.1,737.5 3372.2,761.8 3376.2,802.3 3380.3,826.5 3384.3,858.9 3390.4,883.2 3394.4,911.5 3398.5,915.5 3402.5,883.2 3406.6,802.3 3408.6,721.4 3410.6,672.8 3412.6,652.6 3416.7,660.7 3420.7,680.9 3423.9,721.4 3426.8,757.8 3432.8,765.9 3436.9,810.4 3440.9,846.8 3445.0,867.0 3451.1,883.2 3455.1,887.2 3459.1,875.1 3461.2,907.4 3465.2,911.5 3469.3,875.1 3473.3,842.7 3479.4,822.5 3485.4,814.4 3489.5,830.6 3493.5,862.9 3497.6,899.4 3503.6,923.6 3511.7,931.7 3519.8,927.7 3523.9,883.2 3527.9,826.5 3532.0,794.2 3534.8,790.1 3538.0,814.4 3544.1,818.4 3548.1,834.6 3552.2,842.7 3556.2,802.3 3560.3,790.1 3564.3,753.7 3566.3,680.9 3568.4,624.3 3570.4,544.4 3573.6,544.4 3577.7,558.6 3579.3,595.0 3581.7,675.9 3584.5,749.7 3586.6,790.1 3590.6,721.4 3593.9,672.8 3596.7,624.3 3600.7,554.5 3602.8,514.1 3604.8,457.4 3608.8,441.3 3612.9,412.9 3615.7,408.9 3618.1,449.4 3621.0,451.4 3623.0,493.9 3627.0,514.1 3631.1,526.2 3634.3,562.6 3638.3,566.7 3641.2,615.2 3644.0,675.9 3646.4,750.1 3647.2,802.3 3649.3,850.8 3651.3,867.0 3657.4,869.0 3663.4,865.0 3667.5,899.4 3671.5,923.6 3675.6,935.8 3679.6,939.8 3685.7,923.6 3689.7,919.6 3695.8,917.6 3699.8,923.6 3705.9,921.6 3712.0,911.5 3716.0,883.2 3720.1,842.7 3726.1,818.4 3730.2,802.3 3733.0,778.0 3737.1,776.0 3742.3,790.1 3747.6,810.4 3749.2,875.1 3750.4,915.5 3754.4,921.6 3760.5,907.4 3764.6,911.5 3768.6,905.4 3774.7,907.4 3778.7,923.6 3782.8,943.9 3792.9,944.7 3803.0,943.9 3811.1,943.0 3815.1,929.7 3821.2,931.7 3827.3,943.9 3839.4,943.9 3843.4,919.6 3847.5,913.5 3853.6,911.5 3856.8,927.7 3861.7,933.7 3867.7,937.8" stroke="#DF8F44"/>
</g>
<line x1="2336.0" y1="960.3" x2="2343.5" y2="960.3" stroke="#000" stroke-width="3"/>
<text x="2329.7" y="977.7" font-family='"Liberation Sans", sans-serif' font-size="48.6" text-anchor="end" fill="#000" >0</text>
<line x1="2336.0" y1="716.1" x2="2343.5" y2="716.1" stroke="#000" stroke-width="3"/>
<text x="2329.7" y="733.5" font-family='"Liberation Sans", sans-serif' font-size="48.6" text-anchor="end" fill="#000" >500</text>
<line x1="2336.0" y1="471.9" x2="2343.5" y2="471.9" stroke="#000" stroke-width="3"/>
<text x="2329.7" y="489.3" font-family='"Liberation Sans", sans-serif' font-size="48.6" text-anchor="end" fill="#000" >1000</text>
<line x1="2336.0" y1="227.7" x2="2343.5" y2="227.7" stroke="#000" stroke-width="3"/>
<text x="2329.7" y="245.1" font-family='"Liberation Sans", sans-serif' font-size="48.6" text-anchor="end" fill="#000" >1500</text>
<line x1="2415.8" y1="988.3" x2="2415.8" y2="995.3" stroke="#000" stroke-width="3"/>
<text x="2415.8" y="1037.0" font-family='"Liberation Sans", sans-serif' font-size="49.5" text-anchor="middle" fill="#000" >0M</text>
<line x1="2620.0" y1="988.3" x2="2620.0" y2="995.3" stroke="#000" stroke-width="3"/>
<text x="2620.0" y="1037.0" font-family='"Liberation Sans", sans-serif' font-size="49.5" text-anchor="middle" fill="#000" >28M</text>
<line x1="2827.6" y1="988.3" x2="2827.6" y2="995.3" stroke="#000" stroke-width="3"/>
<text x="2827.6" y="1037.0" font-family='"Liberation Sans", sans-serif' font-size="49.5" text-anchor="middle" fill="#000" >56M</text>
<line x1="3130.5" y1="988.3" x2="3130.5" y2="995.3" stroke="#000" stroke-width="3"/>
<text x="3130.5" y="1037.0" font-family='"Liberation Sans", sans-serif' font-size="49.5" text-anchor="middle" fill="#000" >98M</text>
<line x1="3361.2" y1="988.3" x2="3361.2" y2="995.3" stroke="#000" stroke-width="3"/>
<text x="3361.2" y="1037.0" font-family='"Liberation Sans", sans-serif' font-size="49.5" text-anchor="middle" fill="#000" >129M</text>
<line x1="3626.2" y1="988.3" x2="3626.2" y2="995.3" stroke="#000" stroke-width="3"/>
<text x="3626.2" y="1037.0" font-family='"Liberation Sans", sans-serif' font-size="49.5" text-anchor="middle" fill="#000" >166M</text>
<line x1="3862.5" y1="988.3" x2="3862.5" y2="995.3" stroke="#000" stroke-width="3"/>
<text x="3862.5" y="1037.0" font-family='"Liberation Sans", sans-serif' font-size="49.5" text-anchor="middle" fill="#000" >198M</text>
<text x="3139.0" y="1091.5" font-family='"Liberation Sans", sans-serif' font-size="49" text-anchor="middle" fill="#000" >SNP Position</text>
<text x="2222.0" y="617.0" font-family='"Liberation Sans", sans-serif' font-size="50.3" text-anchor="middle" fill="#000" transform="rotate(-90 2222.0 617.0)" >IBD Count</text>
<text x="2392.0" y="348.2" font-family='"Liberation Sans", sans-serif' font-size="41.5" text-anchor="start" fill="#000" >Case_Control</text>
<line x1="2396.0" y1="414.0" x2="2434.4" y2="414.0" stroke="#374E55" stroke-width="11.6"/>
<text x="2459.7" y="427.5" font-family='"Liberation Sans", sans-serif' font-size="36" text-anchor="start" fill="#000" >Case</text>
<line x1="2396.0" y1="493.0" x2="2434.4" y2="493.0" stroke="#DF8F44" stroke-width="11.6"/>
<text x="2459.7" y="506.5" font-family='"Liberation Sans", sans-serif' font-size="36" text-anchor="start" fill="#000" >Control</text>
<g stroke="#FAEBD7" fill="none">
<line x1="2338.0" y1="1490.5" x2="3894.0" y2="1490.5" stroke-width="1.5" stroke-dasharray="5.94 5.94"/>
<line x1="2338.0" y1="1698.0" x2="3894.0" y2="1698.0" stroke-width="1.5" stroke-dasharray="5.94 5.94"/>
<line x1="2338.0" y1="1905.5" x2="3894.0" y2="1905.5" stroke-width="1.5" stroke-dasharray="5.94 5.94"/>
<line x1="2338.0" y1="2112.9" x2="3894.0" y2="2112.9" stroke-width="1.5" stroke-dasharray="5.94 5.94"/>
<line x1="2633.2" y1="2203.6" x2="2633.2" y2="1348.0" stroke-width="1.5" stroke-dasharray="5.94 5.94"/>
<line x1="3004.2" y1="2203.6" x2="3004.2" y2="1348.0" stroke-width="1.5" stroke-dasharray="5.94 5.94"/>
<line x1="3341.0" y1="2203.6" x2="3341.0" y2="1348.0" stroke-width="1.5" stroke-dasharray="5.94 5.94"/>
<line x1="3680.8" y1="2203.6" x2="3680.8" y2="1348.0" stroke-width="1.5" stroke-dasharray="5.94 5.94"/>
<line x1="2338.0" y1="1386.7" x2="3894.0" y2="1386.7" stroke-width="3" stroke-dasharray="11.88 11.88"/>
<line x1="2338.0" y1="1594.2" x2="3894.0" y2="1594.2" stroke-width="3" stroke-dasharray="11.88 11.88"/>
<line x1="2338.0" y1="1801.7" x2="3894.0" y2="1801.7" stroke-width="3" stroke-dasharray="11.88 11.88"/>
<line x1="2338.0" y1="2009.2" x2="3894.0" y2="2009.2" stroke-width="3" stroke-dasharray="11.88 11.88"/>
<line x1="2408.3" y1="2203.6" x2="2408.3" y2="1348.0" stroke-width="3" stroke-dasharray="11.88 11.88"/>
<line x1="2858.5" y1="2203.6" x2="2858.5" y2="1348.0" stroke-width="3" stroke-dasharray="11.88 11.88"/>
<line x1="3149.7" y1="2203.6" x2="3149.7" y2="1348.0" stroke-width="3" stroke-dasharray="11.88 11.88"/>
<line x1="3532.0" y1="2203.6" x2="3532.0" y2="1348.0" stroke-width="3" stroke-dasharray="11.88 11.88"/>
<line x1="3828.5" y1="2203.6" x2="3828.5" y2="1348.0" stroke-width="3" stroke-dasharray="11.88 11.88"/>
</g>
<polyline points="2408.3,1384.6 2413.5,1388.7 2419.6,1412.1 2423.6,1408.9 2429.7,1392.7 2441.8,1390.7 2447.1,1402.8 2449.9,1421.0 2456.0,1445.3 2458.0,1459.5 2462.1,1449.4 2467.3,1423.1 2472.2,1433.2 2478.2,1438.0 2484.3,1429.1 2490.4,1427.1 2494.4,1406.9 2510.6,1405.7 2513.4,1412.9 2520.7,1406.9 2536.9,1412.9 2557.1,1408.9 2561.2,1412.1 2575.3,1412.1 2579.4,1429.1 2591.5,1429.9 2601.6,1431.1 2610.5,1445.3 2611.7,1460.7 2625.9,1462.3 2632.0,1469.6 2636.0,1449.4 2642.9,1439.2 2644.1,1455.4 2656.2,1463.5 2664.3,1463.5 2670.4,1459.5 2678.5,1471.6 2684.5,1467.6 2690.6,1469.6 2697.9,1463.5 2704.8,1469.6 2712.9,1471.6 2718.9,1467.6 2726.2,1471.6 2730.3,1464.7 2735.9,1465.5 2743.2,1475.6 2747.2,1485.8 2749.3,1514.1 2751.3,1554.5 2759.4,1555.7 2763.4,1544.4 2769.5,1566.7 2773.5,1544.4 2777.6,1530.3 2783.7,1524.2 2791.7,1524.2 2797.8,1534.3 2801.9,1558.6 2805.9,1559.4 2810.0,1572.7 2818.0,1580.8 2824.1,1578.8 2828.2,1584.9 2838.3,1582.8 2842.3,1574.8 2850.4,1566.7 2858.5,1566.7 2864.6,1571.5 2866.6,1603.1 2868.6,1641.5 2871.8,1607.1 2874.7,1578.8 2878.7,1580.8 2880.7,1607.1 2882.8,1635.4 2888.8,1629.4 2894.9,1631.4 2898.9,1655.7 2903.0,1661.7 2907.0,1619.3 2909.1,1643.5 2915.1,1633.4 2917.2,1655.7 2919.2,1716.3 2918.0,1724.3 2920.0,1750.6 2923.2,1752.6 2923.2,1819.3 2925.2,1799.1 2937.4,1799.1 2938.2,1787.0 2942.2,1785.0 2945.5,1762.7 2949.5,1762.7 2952.8,1774.8 2954.4,1821.4 2954.8,1934.6 2958.4,1942.7 2959.6,1965.0 2963.7,1958.9 2964.9,1989.2 2968.9,1958.9 2973.0,1991.3 2971.8,2015.5 2975.8,2019.6 2977.0,2064.1 2981.1,2031.7 2983.9,2064.1 2987.9,2041.8 2990.8,2041.8 2992.0,2124.8 2996.0,2132.8 2998.9,2145.0 3002.9,2104.5 3006.1,2145.0 3008.2,2165.2 3012.1,2165.2 3013.3,2124.8 3016.2,2080.3 3019.4,2031.7 3021.0,2060.0 3034.4,2060.0 3039.2,2051.1 3046.5,2058.0 3054.6,2068.1 3057.4,2098.5 3064.7,2107.8 3074.0,2117.5 3082.9,2102.5 3089.8,2089.2 3093.9,2103.7 3097.1,2086.3 3106.0,2080.3 3108.4,2070.1 3117.3,2070.1 3120.6,2076.2 3127.4,2066.1 3132.7,2062.1 3136.7,2072.2 3138.8,2114.6 3142.4,2100.5 3144.8,2090.4 3151.7,2089.2 3157.8,2098.5 3161.8,2080.3 3166.7,2080.3 3167.9,2023.6 3171.9,2011.5 3174.8,1991.3 3176.0,1969.0 3178.0,1936.7 3182.8,1946.8 3186.1,1958.9 3189.3,1979.1 3193.4,1977.1 3195.0,1985.2 3199.0,1977.1 3202.3,1999.4 3208.3,2035.8 3214.4,2072.2 3217.6,2077.0 3231.4,2077.0 3233.8,2023.6 3236.7,1942.7 3235.8,1863.8 3241.9,1859.8 3242.7,1849.7 3250.0,1851.7 3251.6,1839.6 3255.7,1851.7 3258.9,1821.4 3260.9,1801.1 3262.1,1752.6 3265.0,1724.3 3269.0,1736.4 3271.8,1696.1 3277.1,1669.8 3283.2,1686.0 3307.4,1702.2 3315.5,1690.0 3329.7,1692.1 3329.7,1699.4 3335.8,1702.2 3366.1,1702.2 3372.2,1712.3 3382.3,1712.3 3394.4,1729.3 3398.5,1718.4 3402.5,1682.0 3406.6,1688.0 3408.6,1660.5 3412.6,1669.8 3422.7,1667.8 3426.8,1671.8 3428.8,1679.9 3434.9,1683.2 3440.9,1677.9 3440.1,1819.5 3446.2,1831.6 3451.1,1801.3 3453.1,1752.8 3455.1,1692.1 3457.1,1736.6 3459.1,1738.6 3465.2,1724.4 3473.3,1740.6 3475.3,1730.5 3495.6,1729.3 3497.6,1734.5 3510.5,1734.5 3515.8,1730.5 3517.8,1688.0 3521.8,1684.0 3525.1,1663.8 3532.0,1665.8 3533.2,1641.5 3538.0,1647.6 3546.1,1646.8 3546.9,1639.5 3553.4,1642.7 3555.0,1619.3 3562.3,1615.2 3564.3,1611.2 3576.5,1615.2 3579.3,1570.7 3582.5,1566.7 3584.5,1538.3 3590.6,1516.1 3606.8,1518.1 3610.8,1499.9 3614.9,1524.2 3618.9,1506.0 3625.0,1514.1 3629.0,1485.8 3635.1,1473.6 3638.3,1467.6 3640.0,1481.7 3647.2,1483.7 3657.4,1491.8 3665.5,1494.7 3671.5,1508.0 3679.6,1512.1 3684.5,1504.0 3687.7,1457.4 3692.6,1451.4 3699.0,1453.4 3699.0,1400.8 3703.9,1398.8 3711.2,1386.7 3715.2,1412.9 3720.1,1412.9 3720.9,1402.8 3740.3,1402.8 3752.4,1400.0 3768.6,1396.8 3771.8,1412.9 3778.7,1415.0 3782.8,1408.9 3796.9,1394.7 3800.2,1408.9 3803.0,1421.0 3813.1,1404.0 3818.0,1440.5 3822.0,1408.9 3827.3,1402.8" fill="none" stroke="#DF8F44" stroke-width="11.3" stroke-linejoin="round" stroke-linecap="round"/>
<line x1="2330.5" y1="1386.7" x2="2338.0" y2="1386.7" stroke="#000" stroke-width="3"/>
<text x="2324.2" y="1404.4" font-family='"Liberation Sans", sans-serif' font-size="49.4" text-anchor="end" fill="#000" >1e+00</text>
<line x1="2330.5" y1="1594.2" x2="2338.0" y2="1594.2" stroke="#000" stroke-width="3"/>
<text x="2324.2" y="1611.9" font-family='"Liberation Sans", sans-serif' font-size="49.4" text-anchor="end" fill="#000" >1e−05</text>
<line x1="2330.5" y1="1801.7" x2="2338.0" y2="1801.7" stroke="#000" stroke-width="3"/>
<text x="2324.2" y="1819.4" font-family='"Liberation Sans", sans-serif' font-size="49.4" text-anchor="end" fill="#000" >1e−10</text>
<line x1="2330.5" y1="2009.2" x2="2338.0" y2="2009.2" stroke="#000" stroke-width="3"/>
<text x="2324.2" y="2026.9" font-family='"Liberation Sans", sans-serif' font-size="49.4" text-anchor="end" fill="#000" >1e−15</text>
<line x1="2408.3" y1="2203.6" x2="2408.3" y2="2210.6" stroke="#000" stroke-width="3"/>
<text x="2408.3" y="2252.0" font-family='"Liberation Sans", sans-serif' font-size="49.5" text-anchor="middle" fill="#000" >117M</text>
<line x1="2858.5" y1="2203.6" x2="2858.5" y2="2210.6" stroke="#000" stroke-width="3"/>
<text x="2858.5" y="2252.0" font-family='"Liberation Sans", sans-serif' font-size="49.5" text-anchor="middle" fill="#000" >119M</text>
<line x1="3149.7" y1="2203.6" x2="3149.7" y2="2210.6" stroke="#000" stroke-width="3"/>
<text x="3149.7" y="2252.0" font-family='"Liberation Sans", sans-serif' font-size="49.5" text-anchor="middle" fill="#000" >120M</text>
<line x1="3532.0" y1="2203.6" x2="3532.0" y2="2210.6" stroke="#000" stroke-width="3"/>
<text x="3532.0" y="2252.0" font-family='"Liberation Sans", sans-serif' font-size="49.5" text-anchor="middle" fill="#000" >122M</text>
<line x1="3828.5" y1="2203.6" x2="3828.5" y2="2210.6" stroke="#000" stroke-width="3"/>
<text x="3828.5" y="2252.0" font-family='"Liberation Sans", sans-serif' font-size="49.5" text-anchor="middle" fill="#000" >123M</text>
<text x="3118.2" y="2307.0" font-family='"Liberation Sans", sans-serif' font-size="50" text-anchor="middle" fill="#000" >snp position</text>
<text x="2164.7" y="1776.0" font-family='"Liberation Sans", sans-serif' font-size="50" text-anchor="middle" fill="#000" transform="rotate(-90 2164.7 1776.0)" >p_values</text>
<text x="2383.0" y="1568.7" font-family='"Liberation Sans", sans-serif' font-size="41.5" text-anchor="start" fill="#000" >Case_Control</text>
<line x1="2387.0" y1="1635.4" x2="2425.6" y2="1635.4" stroke="#DF8F44" stroke-width="11.6"/>
<text x="2451.0" y="1647.3" font-family='"Liberation Sans", sans-serif' font-size="36" text-anchor="start" fill="#000" >Control</text>
<line x1="3218.0" y1="566.0" x2="3116.2" y2="668.2" stroke="#12c455" stroke-width="1.34" stroke-dasharray="9 4.3 1.9 4.3" stroke-dashoffset="0.00"/>
<line x1="3116.2" y1="668.2" x2="3014.5" y2="770.5" stroke="#12c455" stroke-width="1.41" stroke-dasharray="9 4.3 1.9 4.3" stroke-dashoffset="7.75"/>
<line x1="3014.5" y1="770.5" x2="2912.8" y2="872.8" stroke="#12c455" stroke-width="1.49" stroke-dasharray="9 4.3 1.9 4.3" stroke-dashoffset="15.50"/>
<line x1="2912.8" y1="872.8" x2="2811.0" y2="975.0" stroke="#12c455" stroke-width="1.56" stroke-dasharray="9 4.3 1.9 4.3" stroke-dashoffset="3.75"/>
<line x1="2811.0" y1="975.0" x2="2709.2" y2="1077.2" stroke="#12c455" stroke-width="1.64" stroke-dasharray="9 4.3 1.9 4.3" stroke-dashoffset="11.50"/>
<line x1="2709.2" y1="1077.2" x2="2607.5" y2="1179.5" stroke="#12c455" stroke-width="1.71" stroke-dasharray="9 4.3 1.9 4.3" stroke-dashoffset="19.25"/>
<line x1="2607.5" y1="1179.5" x2="2505.8" y2="1281.8" stroke="#12c455" stroke-width="1.79" stroke-dasharray="9 4.3 1.9 4.3" stroke-dashoffset="7.50"/>
<line x1="2505.8" y1="1281.8" x2="2404.0" y2="1384.0" stroke="#12c455" stroke-width="1.86" stroke-dasharray="9 4.3 1.9 4.3" stroke-dashoffset="15.25"/>
<line x1="3374.4" y1="561.3" x2="3431.1" y2="665.9" stroke="#12c455" stroke-width="1.38" stroke-dasharray="9 4.3 1.9 4.3" stroke-dashoffset="0.00"/>
<line x1="3431.1" y1="665.9" x2="3487.8" y2="770.5" stroke="#12c455" stroke-width="1.54" stroke-dasharray="9 4.3 1.9 4.3" stroke-dashoffset="1.97"/>
<line x1="3487.8" y1="770.5" x2="3544.5" y2="875.1" stroke="#12c455" stroke-width="1.71" stroke-dasharray="9 4.3 1.9 4.3" stroke-dashoffset="3.94"/>
<line x1="3544.5" y1="875.1" x2="3601.2" y2="979.6" stroke="#12c455" stroke-width="1.87" stroke-dasharray="9 4.3 1.9 4.3" stroke-dashoffset="5.90"/>
<line x1="3601.2" y1="979.6" x2="3657.9" y2="1084.2" stroke="#12c455" stroke-width="2.03" stroke-dasharray="9 4.3 1.9 4.3" stroke-dashoffset="7.87"/>
<line x1="3657.9" y1="1084.2" x2="3714.6" y2="1188.8" stroke="#12c455" stroke-width="2.19" stroke-dasharray="9 4.3 1.9 4.3" stroke-dashoffset="9.84"/>
<line x1="3714.6" y1="1188.8" x2="3771.3" y2="1293.4" stroke="#12c455" stroke-width="2.36" stroke-dasharray="9 4.3 1.9 4.3" stroke-dashoffset="11.81"/>
<line x1="3771.3" y1="1293.4" x2="3828.0" y2="1398.0" stroke="#12c455" stroke-width="2.52" stroke-dasharray="9 4.3 1.9 4.3" stroke-dashoffset="13.78"/>
<g fill="none" stroke-linejoin="round" stroke-linecap="butt" stroke-width="11.2">
<polyline points="358.1,1453.8 452.2,1828.8 546.4,1338.6 640.5,1450.8 734.6,1811.1 828.8,1861.3 922.9,1842.4 1017.0,1858.3 1111.1,1856.9 1205.3,1814.1 1299.4,1846.5 1393.5,1814.1 1487.7,1827.3 1581.8,1672.3 1675.9,1657.5 1770.0,1794.6 1864.2,1744.4" stroke="#374E55"/>
<polyline points="358.1,1764.7 452.2,1841.8 546.4,1548.3 640.5,1633.9 734.6,1855.4 828.8,1861.3 922.9,1813.2 1017.0,1778.6 1111.1,1861.3 1205.3,1784.5 1299.4,1781.6 1393.5,1766.8 1487.7,1846.5 1581.8,1811.1 1675.9,1817.0 1770.0,1861.3 1864.2,1762.7" stroke="#DF8F44"/>
</g>
<line x1="294.5" y1="1861.3" x2="302.0" y2="1861.3" stroke="#000" stroke-width="3"/>
<text x="288.2" y="1878.9" font-family='"Liberation Sans", sans-serif' font-size="49.3" text-anchor="end" fill="#000" >0</text>
<line x1="294.5" y1="1713.6" x2="302.0" y2="1713.6" stroke="#000" stroke-width="3"/>
<text x="288.2" y="1731.3" font-family='"Liberation Sans", sans-serif' font-size="49.3" text-anchor="end" fill="#000" >50</text>
<line x1="294.5" y1="1566.0" x2="302.0" y2="1566.0" stroke="#000" stroke-width="3"/>
<text x="288.2" y="1583.6" font-family='"Liberation Sans", sans-serif' font-size="49.3" text-anchor="end" fill="#000" >100</text>
<line x1="294.5" y1="1418.3" x2="302.0" y2="1418.3" stroke="#000" stroke-width="3"/>
<text x="288.2" y="1436.0" font-family='"Liberation Sans", sans-serif' font-size="49.3" text-anchor="end" fill="#000" >150</text>
<line x1="358.1" y1="1887.5" x2="358.1" y2="1894.7" stroke="#000" stroke-width="3"/>
<text x="376.1" y="1902.0" font-family='"Liberation Sans", sans-serif' font-size="50" text-anchor="end" fill="#000" transform="rotate(-90 376.1 1902.0)" >1000000000</text>
<line x1="452.2" y1="1887.5" x2="452.2" y2="1894.7" stroke="#000" stroke-width="3"/>
<text x="470.2" y="1902.0" font-family='"Liberation Sans", sans-serif' font-size="50" text-anchor="end" fill="#000" transform="rotate(-90 470.2 1902.0)" >1010000000</text>
<line x1="546.4" y1="1887.5" x2="546.4" y2="1894.7" stroke="#000" stroke-width="3"/>
<text x="564.4" y="1902.0" font-family='"Liberation Sans", sans-serif' font-size="50" text-anchor="end" fill="#000" transform="rotate(-90 564.4 1902.0)" >0000000000</text>
<line x1="640.5" y1="1887.5" x2="640.5" y2="1894.7" stroke="#000" stroke-width="3"/>
<text x="658.5" y="1902.0" font-family='"Liberation Sans", sans-serif' font-size="50" text-anchor="end" fill="#000" transform="rotate(-90 658.5 1902.0)" >0000100000</text>
<line x1="734.6" y1="1887.5" x2="734.6" y2="1894.7" stroke="#000" stroke-width="3"/>
<text x="752.6" y="1902.0" font-family='"Liberation Sans", sans-serif' font-size="50" text-anchor="end" fill="#000" transform="rotate(-90 752.6 1902.0)" >1000100000</text>
<line x1="828.8" y1="1887.5" x2="828.8" y2="1894.7" stroke="#000" stroke-width="3"/>
<text x="846.8" y="1902.0" font-family='"Liberation Sans", sans-serif' font-size="50" text-anchor="end" fill="#000" transform="rotate(-90 846.8 1902.0)" >1011000000</text>
<line x1="922.9" y1="1887.5" x2="922.9" y2="1894.7" stroke="#000" stroke-width="3"/>
<text x="940.9" y="1902.0" font-family='"Liberation Sans", sans-serif' font-size="50" text-anchor="end" fill="#000" transform="rotate(-90 940.9 1902.0)" >0000000010</text>
<line x1="1017.0" y1="1887.5" x2="1017.0" y2="1894.7" stroke="#000" stroke-width="3"/>
<text x="1035.0" y="1902.0" font-family='"Liberation Sans", sans-serif' font-size="50" text-anchor="end" fill="#000" transform="rotate(-90 1035.0 1902.0)" >0000000011</text>
<line x1="1111.1" y1="1887.5" x2="1111.1" y2="1894.7" stroke="#000" stroke-width="3"/>
<text x="1129.1" y="1902.0" font-family='"Liberation Sans", sans-serif' font-size="50" text-anchor="end" fill="#000" transform="rotate(-90 1129.1 1902.0)" >0001000010</text>
<line x1="1205.3" y1="1887.5" x2="1205.3" y2="1894.7" stroke="#000" stroke-width="3"/>
<text x="1223.3" y="1902.0" font-family='"Liberation Sans", sans-serif' font-size="50" text-anchor="end" fill="#000" transform="rotate(-90 1223.3 1902.0)" >1010100000</text>
<line x1="1299.4" y1="1887.5" x2="1299.4" y2="1894.7" stroke="#000" stroke-width="3"/>
<text x="1317.4" y="1902.0" font-family='"Liberation Sans", sans-serif' font-size="50" text-anchor="end" fill="#000" transform="rotate(-90 1317.4 1902.0)" >1000000010</text>
<line x1="1393.5" y1="1887.5" x2="1393.5" y2="1894.7" stroke="#000" stroke-width="3"/>
<text x="1411.5" y="1902.0" font-family='"Liberation Sans", sans-serif' font-size="50" text-anchor="end" fill="#000" transform="rotate(-90 1411.5 1902.0)" >0000100010</text>
<line x1="1487.7" y1="1887.5" x2="1487.7" y2="1894.7" stroke="#000" stroke-width="3"/>
<text x="1505.7" y="1902.0" font-family='"Liberation Sans", sans-serif' font-size="50" text-anchor="end" fill="#000" transform="rotate(-90 1505.7 1902.0)" >1010100010</text>
<line x1="1581.8" y1="1887.5" x2="1581.8" y2="1894.7" stroke="#000" stroke-width="3"/>
<text x="1599.8" y="1902.0" font-family='"Liberation Sans", sans-serif' font-size="50" text-anchor="end" fill="#000" transform="rotate(-90 1599.8 1902.0)" >1010000010</text>
<line x1="1675.9" y1="1887.5" x2="1675.9" y2="1894.7" stroke="#000" stroke-width="3"/>
<text x="1693.9" y="1902.0" font-family='"Liberation Sans", sans-serif' font-size="50" text-anchor="end" fill="#000" transform="rotate(-90 1693.9 1902.0)" >1000100010</text>
<line x1="1770.0" y1="1887.5" x2="1770.0" y2="1894.7" stroke="#000" stroke-width="3"/>
<text x="1788.0" y="1902.0" font-family='"Liberation Sans", sans-serif' font-size="50" text-anchor="end" fill="#000" transform="rotate(-90 1788.0 1902.0)" >1011000010</text>
<line x1="1864.2" y1="1887.5" x2="1864.2" y2="1894.7" stroke="#000" stroke-width="3"/>
<text x="1882.2" y="1902.0" font-family='"Liberation Sans", sans-serif' font-size="50" text-anchor="end" fill="#000" transform="rotate(-90 1882.2 1902.0)" >1010001010</text>
<text x="1110.7" y="2221.4" font-family='"Liberation Sans", sans-serif' font-size="49.3" text-anchor="middle" fill="#000" >haplotypes</text>
<text x="185.0" y="1603.0" font-family='"Liberation Sans", sans-serif' font-size="50" text-anchor="middle" fill="#000" transform="rotate(-90 185.0 1603.0)" >Number of Structures</text>
<text x="1615.6" y="1410.4" font-family='"Liberation Sans", sans-serif' font-size="41.5" text-anchor="start" fill="#000" >Case_Control</text>
<line x1="1620.0" y1="1475.5" x2="1658.0" y2="1475.5" stroke="#374E55" stroke-width="11.6"/>
<text x="1684.0" y="1488.5" font-family='"Liberation Sans", sans-serif' font-size="36" text-anchor="start" fill="#000" >Case</text>
<line x1="1620.0" y1="1554.0" x2="1658.0" y2="1554.0" stroke="#DF8F44" stroke-width="11.6"/>
<text x="1684.0" y="1567.5" font-family='"Liberation Sans", sans-serif' font-size="36" text-anchor="start" fill="#000" >Control</text>
<line x1="3155" y1="1663.2" x2="1910" y2="1663.2" stroke="#00b9bb" stroke-width="9.4" stroke-dasharray="38 18.9 9.4 19" stroke-dashoffset="60.3" fill="none"/>
<path d="M1860.1,1663.3 Q1897.2,1650.2 1915.8,1632.2 Q1915.6,1648 1910.5,1659 L1910.5,1667.6 Q1915.6,1678.6 1915.8,1694.4 Q1897.2,1676.4 1860.1,1663.3 Z" fill="#00b9bb"/>
<line x1="3151.3" y1="1667.5" x2="3151.3" y2="2060" stroke="#00b9bb" stroke-width="4.2" stroke-dasharray="27.4 3.9 3.7 4.5" stroke-dashoffset="12.6" fill="none"/>
<path d="M3151.3,2078 L3137,2053 C3144,2057 3148,2058.5 3151.3,2059 C3154.5,2058.5 3158.5,2057 3165.5,2053 Z" fill="#00b9bb"/>
</svg></body></html>
